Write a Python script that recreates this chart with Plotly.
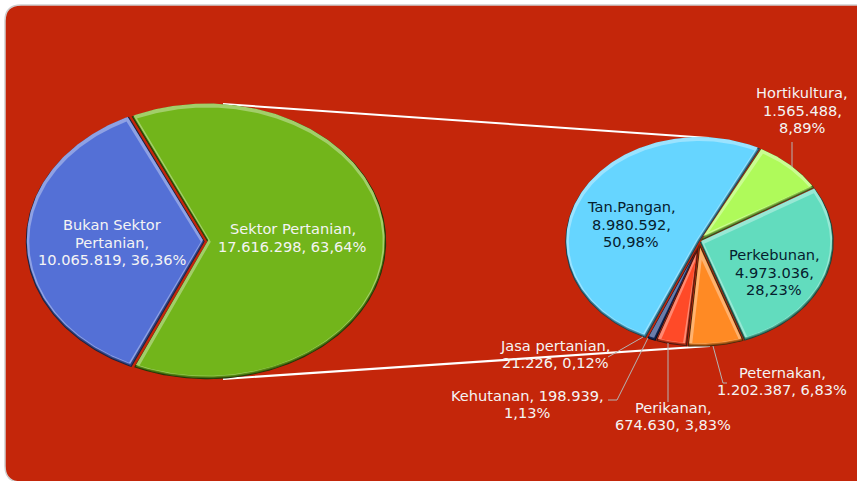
import math
import plotly.graph_objects as go

# ---------- data ----------
main_names = ["Sektor Pertanian", "Bukan Sektor Pertanian"]
main_values = [17616298, 10065819]
main_colors = ["#72B51B", "#5470D6"]
main_labels = ["Sektor Pertanian,<br>17.616.298, 63,64%",
               "Bukan Sektor<br>Pertanian,<br>10.065.819, 36,36%"]

sub_names = ["Hortikultura", "Perkebunan", "Peternakan", "Perikanan",
             "Kehutanan", "Jasa pertanian", "Tan.Pangan"]
sub_values = [1565488, 4973036, 1202387, 674630, 198939, 21226, 8980592]
sub_colors = ["#AFFA5A", "#62DCBE", "#FF8A24", "#FF4A28", "#1F3A80", "#7A2A10", "#66D5FF"]
sub_labels = ["Hortikultura,<br>1.565.488,<br>8,89%",
              "Perkebunan,<br>4.973.036,<br>28,23%",
              "Peternakan,<br>1.202.387, 6,83%",
              "Perikanan,<br>674.630, 3,83%",
              "Kehutanan, 198.939,<br>1,13%",
              "Jasa pertanian,<br>21.226, 0,12%",
              "Tan.Pangan,<br>8.980.592,<br>50,98%"]

# ---------- style / layout ----------
W, H = 857, 481
BG = "#C4260A"
LIGHT = "#F4F4F4"
DARK = "#06202E"
FONT_SIZE = 14.6
LINE_STEP = 17.5


def mix(hex_color, target, t):
    c = [int(hex_color[i:i + 2], 16) for i in (1, 3, 5)]
    return "rgb(%d,%d,%d)" % tuple(round(a + (b - a) * t) for a, b in zip(c, target))


def wedge(cx, cy, rx, ry, a0, a1, inset=0.0, dx=0.0, dy=0.0):
    """Polygon of an elliptical wedge; angles clockwise from 12 o'clock, degrees."""
    r_mean = (rx + ry) / 2
    span = a1 - a0
    trim = math.degrees(inset / (r_mean * 0.9))
    if trim * 2 >= span:
        trim = span * 0.3
    half = math.radians(span / 2)
    mid = math.radians((a0 + a1) / 2)
    shift = min(inset / max(math.sin(min(half, math.pi / 2)), 0.05), 18)
    ax = cx + shift * math.sin(mid) + dx
    ay = cy - shift * math.cos(mid) + dy
    n = max(6, int(span * 1.2))
    xs, ys = [ax], [ay]
    for i in range(n + 1):
        a = math.radians(a0 + trim + (span - 2 * trim) * i / n)
        xs.append(cx + dx + (rx - inset) * math.sin(a))
        ys.append(cy + dy - (ry - inset) * math.cos(a))
    xs.append(ax)
    ys.append(ay)
    return xs, ys


def add_pie(fig, values, colors, names, cx, cy, rx, ry, start, offsets=None):
    total = sum(values)
    a = start
    for idx, (v, col, name) in enumerate(zip(values, colors, names)):
        span = v / total * 360
        ox, oy = offsets[idx] if offsets else (0, 0)
        layers = [
            (0.3, 0, 0, mix(col, (0, 0, 0), 0.70)),
            (1.2, 0, 0, mix(col, (0, 0, 0), 0.42)),
            (2.2, 0, 0, mix(col, (0, 0, 0), 0.20)),
            (1.6, -0.3, -1.6, mix(col, (255, 255, 255), 0.34)),
            (3.8, 0.0, 0.2, col),
        ]
        for inset, dx, dy, fill in layers:
            if span < 1 and inset > 1:
                continue
            xs, ys = wedge(cx + ox, cy + oy, rx, ry, a, a + span, inset, dx, dy)
            fig.add_trace(go.Scatter(x=xs, y=ys, mode="lines", fill="toself",
                                     fillcolor=fill, line=dict(width=0),
                                     name=name, hoverinfo="skip", showlegend=False))
        a += span


fig = go.Figure()

# connector lines between the two pies
for (x0, y0, x1, y1, w) in [(223, 104, 709, 138, 2), (223, 379, 710, 346, 2.2)]:
    fig.add_trace(go.Scatter(x=[x0, x1], y=[y0, y1], mode="lines",
                             line=dict(color="white", width=w),
                             hoverinfo="skip", showlegend=False))

add_pie(fig, main_values, main_colors, main_names, 206, 241.5, 179.5, 138, -25,
        offsets=[(1, 0), (-1, 0)])
add_pie(fig, sub_values, sub_colors, sub_names, 699.5, 242, 134.5, 105, 27)

# leader lines
leaders = [
    ([792, 792], [142, 167]),
    ([713, 723, 727], [346, 383, 383]),
    ([668, 668], [343, 402]),
    ([648, 617, 608], [338, 400, 400]),
    ([643, 608], [337, 357]),
]
for lx, ly in leaders:
    fig.add_trace(go.Scatter(x=lx, y=ly, mode="lines",
                             line=dict(color="#B4B4B4", width=1),
                             hoverinfo="skip", showlegend=False))

# labels, one annotation per line so the leading can match the reference
main_pos = [(292.5, 237.5, LIGHT), (112, 242, LIGHT)]
sub_pos = [(802, 110, LIGHT), (774, 272, DARK), (782, 381, LIGHT), (673, 416, LIGHT),
           (527, 404, LIGHT), (555, 354, LIGHT), (631, 224, DARK)]
annotations = []
for text, (x, y, c) in list(zip(main_labels, main_pos)) + list(zip(sub_labels, sub_pos)):
    parts = text.split("<br>")
    for i, part in enumerate(parts):
        annotations.append(dict(x=x, y=y + (i - (len(parts) - 1) / 2) * LINE_STEP, text=part,
                                showarrow=False, xanchor="center", yanchor="middle",
                                font=dict(family="DejaVu Sans", size=FONT_SIZE, color=c)))

# rounded panel
r = 16
L, T, R, B = 5, 5, 880, 482
panel = (f"M {L + r} {T} L {R} {T} L {R} {B} L {L + r} {B} "
         f"Q {L} {B} {L} {B - r} L {L} {T + r} Q {L} {T} {L + r} {T} Z")

fig.update_layout(
    width=W, height=H, autosize=False,
    margin=dict(l=0, r=0, t=0, b=0),
    paper_bgcolor="white", plot_bgcolor="white",
    xaxis=dict(range=[0, W], visible=False, fixedrange=True),
    yaxis=dict(range=[H, 0], visible=False, fixedrange=True),
    shapes=[dict(type="path", path=panel, fillcolor=BG, layer="below",
                 line=dict(color="#CFCFCF", width=1.5))],
    annotations=annotations,
)

fig.write_html("out.html", config={"displayModeBar": False},
               post_script="document.body.style.margin='0';document.body.style.overflow='hidden';")
